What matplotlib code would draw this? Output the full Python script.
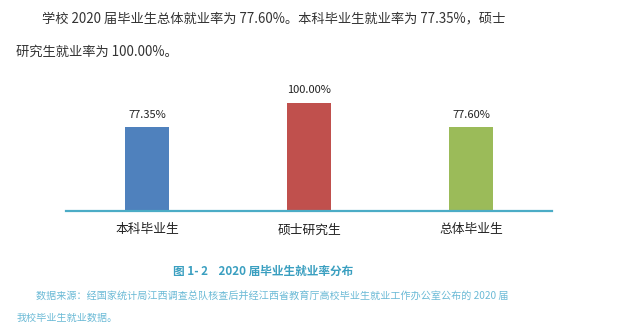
import matplotlib

matplotlib.use("Agg")
import matplotlib.pyplot as plt

plt.rcParams["font.family"] = ["Noto Sans CJK SC", "DejaVu Sans"]

# 2020 届毕业生就业率
categories = ["本科毕业生", "硕士研究生", "总体毕业生"]
rates = [77.35, 100.00, 77.60]
bar_colors = ["#4f81bd", "#c0504d", "#9bbb59"]

W, H = 625, 331
fig = plt.figure(figsize=(W / 100, H / 100), dpi=100)

# 图表区域（像素换算成 figure 坐标）
left, right, bottom, top = 66, 552, 211, 80
ax = fig.add_axes([left / W, 1 - bottom / H, (right - left) / W, (bottom - top) / H])

x = range(len(categories))
ax.bar(x, rates, width=0.27, color=bar_colors)
for xi, v in zip(x, rates):
    ax.text(xi, v + 7, f"{v:.2f}%", ha="center", va="bottom", fontsize=8, color="#222222")

ax.set_xlim(-0.5, len(categories) - 0.5)
ax.set_ylim(0, (bottom - top) / 108 * 100)
ax.set_xticks(list(x))
ax.set_xticklabels(categories, fontsize=9.2, color="#222222")
ax.tick_params(axis="x", length=0, pad=9)
ax.set_yticks([])
for s in ["top", "right", "left"]:
    ax.spines[s].set_visible(False)
ax.spines["bottom"].set_color("#4bacc6")
ax.spines["bottom"].set_linewidth(1.6)

# 正文
body = "#333333"
fig.text(42 / W, 1 - 18 / H, "学校 2020 届毕业生总体就业率为 77.60%。本科毕业生就业率为 77.35%，硕士",
         fontsize=9.55, color=body, va="center", ha="left")
fig.text(16 / W, 1 - 52 / H, "研究生就业率为 100.00%。",
         fontsize=9.55, color=body, va="center", ha="left")

# 图题与数据来源
fig.text(173 / W, 1 - 271 / H, "图 1- 2    2020 届毕业生就业率分布",
         fontsize=8.4, fontweight="bold", color="#3a9fc0", ha="left", va="center")
src = "#6bbad6"
fig.text(36 / W, 1 - 297 / H,
         "数据来源：经国家统计局江西调查总队核查后并经江西省教育厅高校毕业生就业工作办公室公布的 2020 届",
         fontsize=7.25, color=src, ha="left", va="center")
fig.text(17 / W, 1 - 318 / H, "我校毕业生就业数据。", fontsize=7.25, color=src, ha="left", va="center")

fig.savefig("out.png", dpi=100)
